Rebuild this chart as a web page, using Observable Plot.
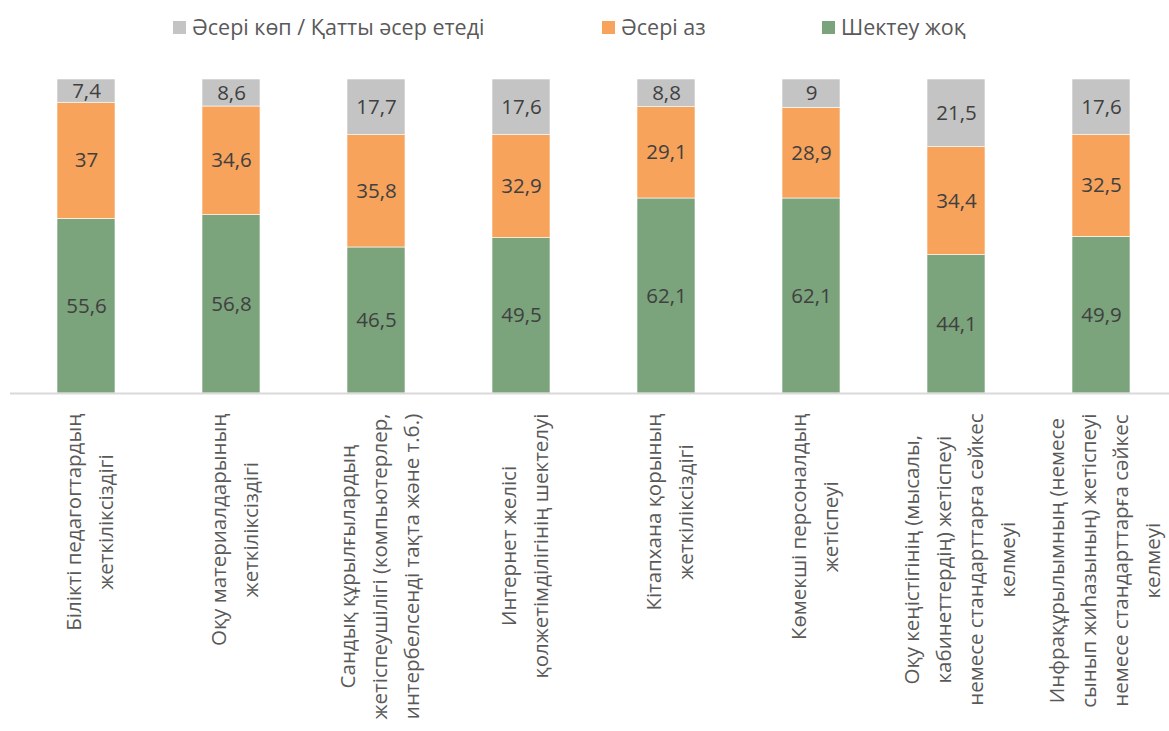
<!DOCTYPE html>
<html>
<head>
<meta charset="utf-8">
<script src="https://cdn.jsdelivr.net/npm/d3@7"></script>
<script src="https://cdn.jsdelivr.net/npm/@observablehq/plot@0.6"></script>
<style>
  html, body { margin: 0; padding: 0; background: #ffffff; }
  #wrap { width: 1169px; height: 731px; overflow: hidden; position: relative; font-family: "Open Sans", sans-serif; }
  #legend { position: relative; height: 50px; }
  .item { position: absolute; top: 13px; display: flex; align-items: center; font-size: 21.5px; color: #595959; white-space: nowrap; line-height: 28px; }
  .sw { width: 13px; height: 13px; margin-right: 6px; flex: none; }
  #chart svg { display: block; }
</style>
</head>
<body>
<div id="wrap">
  <div id="legend"></div>
  <div id="chart"></div>
</div>
<script>
// ---- data ----
const categories = [
  "Білікті педагогтардың\nжеткіліксіздігі",
  "Оқу материалдарының\nжеткіліксіздігі",
  "Сандық құрылғылардың\nжетіспеушілігі (компьютерлер,\nинтербелсенді тақта және т.б.)",
  "Интернет желісі\nқолжетімділігінің шектелуі",
  "Кітапхана қорының\nжеткіліксіздігі",
  "Көмекші персоналдың\nжетіспеуі",
  "Оқу кеңістігінің (мысалы,\nкабинеттердің) жетіспеуі\nнемесе стандарттарға сәйкес\nкелмеуі",
  "Инфрақұрылымның (немесе\nсынып жиһазының) жетіспеуі\nнемесе стандарттарға сәйкес\nкелмеуі"
];
const seriesNames = ["Шектеу жоқ", "Әсері аз", "Әсері көп / Қатты әсер етеді"];
const noLimit    = [55.6, 56.8, 46.5, 49.5, 62.1, 62.1, 44.1, 49.9];
const lowImpact  = [37, 34.6, 35.8, 32.9, 29.1, 28.9, 34.4, 32.5];
const highImpact = [7.4, 8.6, 17.7, 17.6, 8.8, 9, 21.5, 17.6];
const seriesColors = ["#7ba37c", "#f7a35c", "#c4c4c4"];
const legendOrder = ["Әсері көп / Қатты әсер етеді", "Әсері аз", "Шектеу жоқ"];

// ---- table ----
const seriesValues = [noLimit, lowImpact, highImpact];
const data = [];
categories.forEach((c, i) => {
  seriesNames.forEach((s, j) => data.push({category: c, series: s, value: seriesValues[j][i]}));
});
const fmt = v => String(v).replace(".", ",");

// ---- legend ----
const legendLeft = [173, 602, 822];
const legend = document.getElementById("legend");
legendOrder.forEach((name, k) => {
  const item = document.createElement("div");
  item.className = "item";
  item.style.left = legendLeft[k] + "px";
  const sw = document.createElement("span");
  sw.className = "sw";
  sw.style.background = seriesColors[seriesNames.indexOf(name)];
  const tx = document.createElement("span");
  tx.textContent = name;
  item.appendChild(sw); item.appendChild(tx);
  legend.appendChild(item);
});

// ---- chart ----
const W = 1169, H = 681;
const plot = Plot.plot({
  width: W, height: H,
  marginTop: 29, marginBottom: 338, marginLeft: 10, marginRight: 0,
  style: {fontFamily: "Open Sans, sans-serif", background: "transparent", overflow: "hidden"},
  x: {domain: categories, range: [10, 1177], paddingInner: 0.6, paddingOuter: 0.3, align: 0.5, axis: null},
  y: {domain: [0, 100], axis: null},
  color: {domain: seriesNames, range: seriesColors},
  marks: [
    Plot.barY(data, {x: "category", y: "value", fill: "series", order: seriesNames, stroke: "#ffffff", strokeWidth: 0.6}),
    Plot.ruleY([0], {stroke: "#d9d9d9", strokeWidth: 2}),
    Plot.text(data, Plot.stackY({
      x: "category", y: "value", z: "series", order: seriesNames,
      text: d => fmt(d.value), fill: "#404040", fontSize: 20.5
    })),
    Plot.text(categories, {
      x: d => d, y: () => 0, rotate: -90, textAnchor: "end", lineAnchor: "middle",
      dy: 20, lineHeight: 1.57, fontSize: 20.5, fill: "#595959", className: "xlab"
    })
  ]
});
document.getElementById("chart").appendChild(plot);

// center the lines of each rotated label, keeping the longest line's end at the anchor
plot.querySelectorAll(".xlab text").forEach(t => {
  const spans = t.querySelectorAll("tspan");
  let w = 0;
  spans.forEach(s => { w = Math.max(w, s.getComputedTextLength()); });
  t.setAttribute("text-anchor", "middle");
  spans.forEach(s => s.setAttribute("x", -w / 2));
});
</script>
</body>
</html>
